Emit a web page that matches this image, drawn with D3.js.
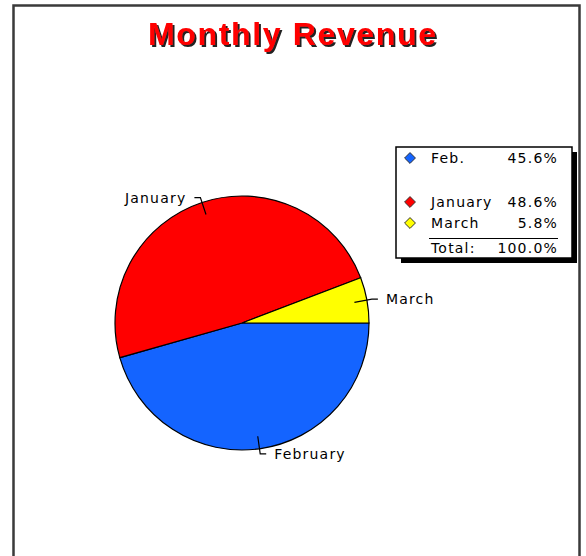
<!DOCTYPE html>
<meta charset="utf-8">
<style>
  body { margin: 0; background: #fff; }
  text { font-family: "DejaVu Sans", sans-serif; }
</style>
<body>
<script src="https://d3js.org/d3.v7.min.js"></script>
<script>
  // data
  var months = ["Feb.", "January", "March"];
  var sliceLabels = ["February", "January", "March"];
  var revenue = [45.6, 48.6, 5.8];
  var colors = ["#1464ff", "#ff0000", "#ffff00"];
  var totalLabel = "Total:";

  var W = 586, H = 556;
  var svg = d3.select("body").append("svg")
      .attr("width", W)
      .attr("height", H);

  // shadow for the title
  var f = svg.append("defs").append("filter")
      .attr("id", "shadow")
      .attr("x", "-5%").attr("y", "-20%")
      .attr("width", "110%").attr("height", "140%");
  f.append("feDropShadow")
      .attr("dx", 2).attr("dy", 2)
      .attr("stdDeviation", 0.3)
      .attr("flood-color", "#222")
      .attr("flood-opacity", 1);

  // frame (bottom edge runs off the picture)
  svg.append("path")
      .attr("d", "M13.5," + (H + 10) + "V5.5H579.5V" + (H + 10))
      .attr("fill", "none")
      .attr("stroke", "#3a3a3a")
      .attr("stroke-width", 2.5);

  svg.append("text")
      .attr("x", 292).attr("y", 45)
      .attr("text-anchor", "middle")
      .attr("textLength", 288)
      .style("font-family", "'Liberation Sans', Arial, sans-serif")
      .style("font-weight", "bold")
      .style("font-size", "32px")
      .attr("fill", "#ff0000")
      .attr("filter", "url(#shadow)")
      .text("Monthly Revenue");

  // pie
  var cx = 242, cy = 323, r = 127;
  var pie = d3.pie().sort(null)
      .startAngle(Math.PI / 2)
      .endAngle(Math.PI / 2 + 2 * Math.PI);
  var arcs = pie(revenue);
  var arc = d3.arc().innerRadius(0).outerRadius(r);

  var g = svg.append("g").attr("transform", "translate(" + cx + "," + cy + ")");
  g.selectAll("path.slice")
      .data(arcs)
      .enter().append("path")
      .attr("class", "slice")
      .attr("d", arc)
      .attr("fill", function(d, i) { return colors[i]; })
      .attr("stroke", "#000")
      .attr("stroke-width", 1.2);

  // leader lines + labels
  arcs.forEach(function(d, i) {
    var a = (d.startAngle + d.endAngle) / 2;
    var sx = Math.sin(a), sy = -Math.cos(a);
    var x1 = sx * r * 0.9, y1 = sy * r * 0.9;
    var x2 = sx * r * 1.04, y2 = sy * r * 1.04;
    var dir = sx >= 0 ? 1 : -1;
    var x3 = x2 + dir * 6;
    g.append("path")
        .attr("d", "M" + x1 + "," + y1 + "L" + x2 + "," + y2 + "L" + x3 + "," + y2)
        .attr("fill", "none")
        .attr("stroke", "#000")
        .attr("stroke-width", 1.2);
    g.append("text")
        .attr("x", x3 + dir * 8)
        .attr("y", y2 + 5)
        .attr("text-anchor", dir > 0 ? "start" : "end")
        .style("font-size", "14px")
        .style("letter-spacing", "1.2px")
        .attr("fill", "#000")
        .text(sliceLabels[i]);
  });

  // legend
  var lx = 396, ly = 147, lw = 176, lh = 111;
  var legend = svg.append("g");
  legend.append("rect")
      .attr("x", lx + 5).attr("y", ly + 5)
      .attr("width", lw).attr("height", lh)
      .attr("fill", "#000");
  legend.append("rect")
      .attr("x", lx).attr("y", ly)
      .attr("width", lw).attr("height", lh)
      .attr("fill", "#fff")
      .attr("stroke", "#000")
      .attr("stroke-width", 1.5);

  var rowY = [158, 202, 223];
  var diamond = d3.symbol().type(d3.symbolDiamond2).size(75);
  months.forEach(function(m, i) {
    legend.append("path")
        .attr("d", diamond())
        .attr("transform", "translate(" + (lx + 14) + "," + rowY[i] + ")")
        .attr("fill", colors[i])
        .attr("stroke", "#333")
        .attr("stroke-width", 1);
    legend.append("text")
        .attr("x", lx + 35).attr("y", rowY[i] + 5)
        .style("font-size", "14px")
        .style("letter-spacing", "1.2px")
        .text(m);
    legend.append("text")
        .attr("x", lx + 162).attr("y", rowY[i] + 5)
        .attr("text-anchor", "end")
        .style("font-size", "14px")
        .style("letter-spacing", "1.2px")
        .text(d3.format(".1f")(revenue[i]) + "%");
  });

  legend.append("line")
      .attr("x1", lx + 33).attr("x2", lx + 162)
      .attr("y1", 238.5).attr("y2", 238.5)
      .attr("stroke", "#000")
      .attr("stroke-width", 1.2);
  legend.append("text")
      .attr("x", lx + 35).attr("y", 253)
      .style("font-size", "14px")
      .style("letter-spacing", "1.2px")
      .text(totalLabel);
  legend.append("text")
      .attr("x", lx + 162).attr("y", 253)
      .attr("text-anchor", "end")
      .style("font-size", "14px")
      .style("letter-spacing", "1.2px")
      .text(d3.format(".1f")(d3.sum(revenue)) + "%");
</script>
</body>
